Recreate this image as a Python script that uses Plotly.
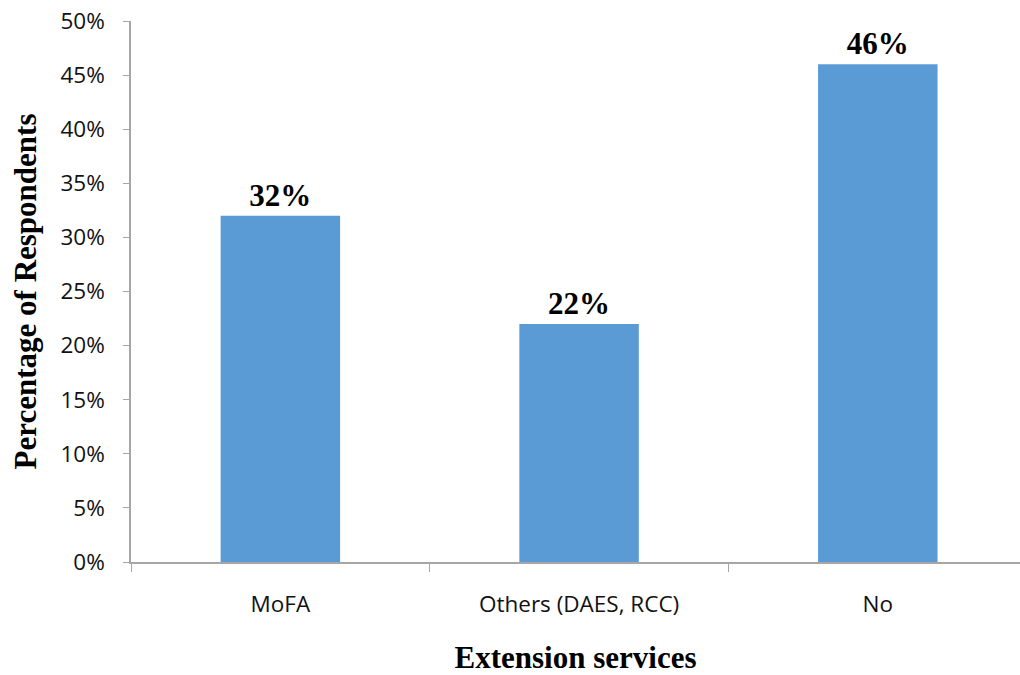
import plotly.graph_objects as go

categories = ["MoFA", "Others (DAES, RCC)", "No"]
percent_values = [32, 22, 46]
y_tick_values = [0, 5, 10, 15, 20, 25, 30, 35, 40, 45, 50]
y_tick_labels = [f"{v}%" for v in y_tick_values]

bar_color = "#5B9BD5"
axis_color = "#A6A6A6"
tick_font = dict(family="Open Sans, sans-serif", size=22.5, color="#111111")
serif = "Liberation Serif, Times New Roman, serif"

fig = go.Figure(
    go.Bar(
        x=categories,
        y=percent_values,
        marker=dict(color=bar_color, line=dict(width=0)),
        text=[f"<b>{v}%</b>" for v in percent_values],
        textposition="outside",
        textfont=dict(family=serif, size=31, color="#000000"),
        cliponaxis=False,
        width=0.4,
    )
)

fig.update_layout(
    width=1020,
    height=675,
    margin=dict(l=131, r=0, t=21, b=113),
    paper_bgcolor="white",
    plot_bgcolor="white",
    showlegend=False,
    xaxis=dict(
        range=[-0.5, 2.476],
        showline=True,
        linecolor=axis_color,
        linewidth=1.5,
        ticks="outside",
        tickson="boundaries",
        ticklen=8,
        tickcolor=axis_color,
        tickfont=tick_font,
        ticklabelstandoff=21,
        showgrid=False,
        title=dict(text="<b>Extension services</b>", font=dict(family=serif, size=31, color="#000000"), standoff=29),
    ),
    yaxis=dict(
        range=[0, 50],
        tickvals=y_tick_values,
        ticktext=y_tick_labels,
        showline=True,
        linecolor=axis_color,
        linewidth=1.5,
        ticks="outside",
        ticklen=6,
        tickcolor=axis_color,
        tickfont=tick_font,
        ticklabelstandoff=14,
        showgrid=False,
        zeroline=False,
        title=dict(text="<b>Percentage of Respondents</b>", font=dict(family=serif, size=31, color="#000000"), standoff=15),
    ),
)

fig.write_html("out.html")
